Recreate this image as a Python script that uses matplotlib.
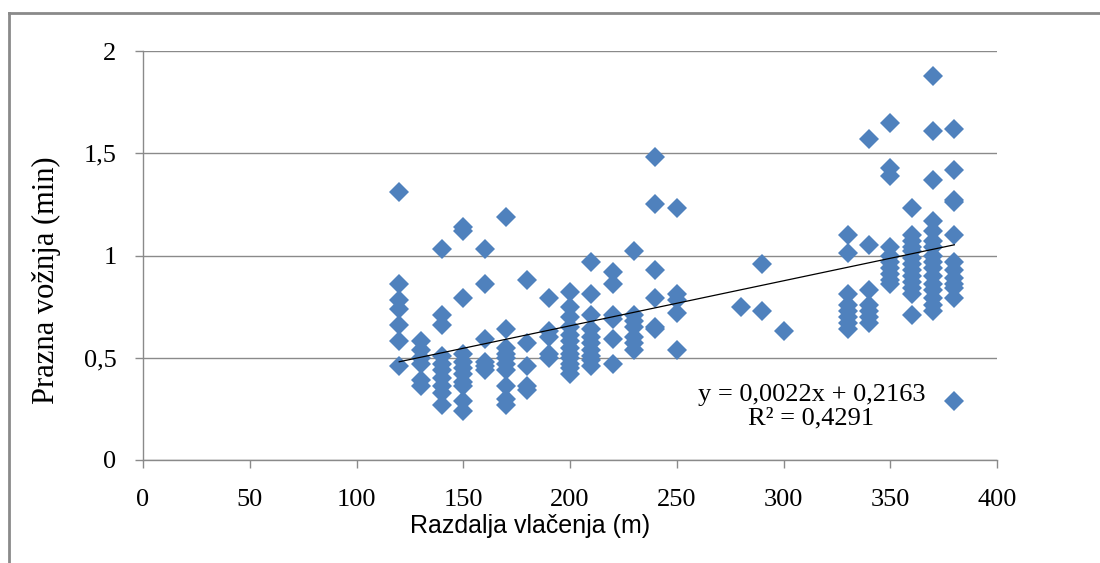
import matplotlib
matplotlib.use('Agg')
import matplotlib.pyplot as plt
from matplotlib.lines import Line2D

# distance columns (m) and the empty-run times (min) read at each one
distances = [120, 130, 140, 150, 160, 170, 180, 190, 200, 210, 220,
             230, 240, 250, 280, 290, 300, 330, 340, 350, 360, 370, 380]
times = [
    [1.31, 0.86, 0.78, 0.74, 0.66, 0.58, 0.46],
    [0.58, 0.54, 0.50, 0.47, 0.39, 0.36],
    [1.03, 0.71, 0.66, 0.51, 0.47, 0.44, 0.40, 0.36, 0.33, 0.27],
    [1.14, 1.12, 0.79, 0.52, 0.48, 0.45, 0.42, 0.38, 0.36, 0.29, 0.24],
    [1.03, 0.86, 0.59, 0.48, 0.46, 0.44],
    [1.19, 0.64, 0.55, 0.52, 0.50, 0.47, 0.44, 0.36, 0.30, 0.27],
    [0.88, 0.57, 0.46, 0.36, 0.34],
    [0.79, 0.63, 0.60, 0.52, 0.50],
    [0.82, 0.75, 0.70, 0.65, 0.61, 0.58, 0.55, 0.52, 0.50, 0.47, 0.45, 0.42],
    [0.97, 0.81, 0.71, 0.64, 0.60, 0.57, 0.54, 0.51, 0.49, 0.46],
    [0.92, 0.86, 0.71, 0.69, 0.59, 0.47],
    [1.02, 0.71, 0.68, 0.65, 0.60, 0.57, 0.54],
    [1.48, 1.25, 0.93, 0.79, 0.65, 0.64],
    [1.23, 0.81, 0.78, 0.72, 0.54],
    [0.75],
    [0.96, 0.73],
    [0.63],
    [1.10, 1.01, 0.81, 0.76, 0.73, 0.70, 0.67, 0.64],
    [1.57, 1.05, 0.83, 0.76, 0.73, 0.70, 0.67],
    [1.65, 1.43, 1.39, 1.04, 1.00, 0.97, 0.94, 0.91, 0.88, 0.86],
    [1.23, 1.10, 1.07, 1.04, 1.02, 0.99, 0.96, 0.93, 0.90, 0.87, 0.84, 0.81, 0.71],
    [1.88, 1.61, 1.37, 1.17, 1.12, 1.07, 1.04, 1.00, 0.97, 0.94, 0.90, 0.86,
     0.83, 0.79, 0.76, 0.73],
    [1.62, 1.42, 1.27, 1.26, 1.10, 0.97, 0.93, 0.89, 0.86, 0.84, 0.79, 0.29],
]

# linear trend as given on the chart
slope = 0.0022
intercept = 0.2163
r_squared = 0.4291

x_ticks = [0, 50, 100, 150, 200, 250, 300, 350, 400]
y_ticks = [0, 0.5, 1, 1.5, 2]
y_tick_labels = ['0', '0,5', '1', '1,5', '2']

serif = 'Liberation Serif'
grey = '#8a8a8a'


def main():
    fig = plt.figure(figsize=(11, 5.63), dpi=100)
    ax = fig.add_axes([143 / 1100, 1 - 460 / 563, 854 / 1100, 409 / 563])

    xs = [d for d, col in zip(distances, times) for _ in col]
    ys = [t for col in times for t in col]
    ax.plot(xs, ys, linestyle='none', marker='D', markersize=10,
            color='#4f81bd', markeredgewidth=0, zorder=3)

    # trendline over the measured range
    x0, x1 = min(distances), max(distances)
    ax.plot([x0, x1], [slope * x0 + intercept, slope * x1 + intercept],
            color='black', linewidth=0.9, zorder=4)

    ax.set_xlim(0, 400)
    ax.set_ylim(0, 2)
    ax.set_xticks(x_ticks)
    ax.set_xticklabels([str(v) for v in x_ticks])
    ax.set_yticks(y_ticks)
    ax.set_yticklabels(y_tick_labels)
    ax.yaxis.grid(True, color=grey, linewidth=1.0)
    ax.set_axisbelow(True)
    for side in ['top', 'right']:
        ax.spines[side].set_visible(False)
    for side in ['left', 'bottom']:
        ax.spines[side].set_color(grey)
        ax.spines[side].set_linewidth(1.0)
    ax.tick_params(direction='out', length=6, width=1.0, color=grey,
                   labelsize=19)
    ax.tick_params(axis='y', pad=13)
    ax.tick_params(axis='x', pad=15)
    for lab in ax.get_xticklabels() + ax.get_yticklabels():
        lab.set_family(serif)

    eq = 'y = 0,0022x + 0,2163\nR² = 0,4291'
    ax.text(313, 0.262, eq, family=serif, fontsize=19, ha='center',
            va='center', linespacing=1.08)

    fig.text(46 / 1100, 1 - 280 / 563, 'Prazna vožnja (min)', family=serif,
             fontsize=22, rotation=90, ha='center', va='center')
    fig.text(530 / 1100, 1 - 526 / 563, 'Razdalja vlačenja (m)',
             family='Liberation Sans', fontsize=18,
             ha='center', va='center')

    # outer chart frame (only top and left edges visible)
    fig.add_artist(Line2D([9 / 1100, 9 / 1100], [0, 1 - 13 / 563],
                          transform=fig.transFigure, color=grey, linewidth=2))
    fig.add_artist(Line2D([9 / 1100, 1], [1 - 13 / 563, 1 - 13 / 563],
                          transform=fig.transFigure, color=grey, linewidth=2))

    fig.savefig('out.png', dpi=100)


if __name__ == '__main__':
    main()
